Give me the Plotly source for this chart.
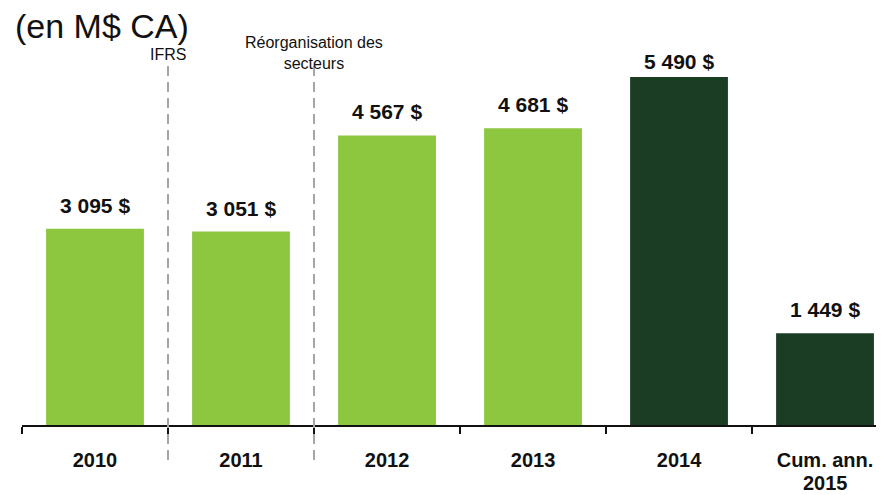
import plotly.graph_objects as go

categories = ["2010", "2011", "2012", "2013", "2014", "Cum. ann. 2015"]
tick_labels = ["2010", "2011", "2012", "2013", "2014", "Cum. ann."]
values = [3095, 3051, 4567, 4681, 5490, 1449]
light_green = "#8DC63F"
dark_green = "#1A3D24"
colors = [light_green, light_green, light_green, light_green, dark_green, dark_green]
divider_positions = [0.5, 1.5]
# extra vertical nudge (px) for labels squeezed near the top
label_nudge = {4: -8}

FONT = "Liberation Sans, Arial, sans-serif"

fig = go.Figure()
fig.add_trace(go.Bar(
    x=list(range(len(categories))), y=values, marker=dict(color=colors, line=dict(width=0)),
    hoverinfo="skip", showlegend=False,
))

annotations = []
for i, v in enumerate(values):
    annotations.append(dict(
        x=i, y=v, xref="x", yref="y", text="<b>" + f"{v:,}".replace(",", " ") + " $</b>",
        showarrow=False, yanchor="bottom", yshift=10 + label_nudge.get(i, 0),
        font=dict(family=FONT, size=21, color="#111111"),
    ))
annotations.append(dict(
    x=5, y=-0.158, xref="x", yref="paper", text="<b>2015</b>", borderpad=0,
    showarrow=False, yanchor="middle", font=dict(family=FONT, size=20, color="#111111"),
))
annotations.append(dict(
    x=-0.0093, y=1.092, xref="paper", yref="paper", text="(en M$ CA)", borderpad=0,
    showarrow=False, xanchor="left", yanchor="middle",
    font=dict(family=FONT, size=34, color="#111111"),
))
annotations.append(dict(
    x=divider_positions[0], y=1.016, xref="x", yref="paper", text="IFRS",
    showarrow=False, yanchor="middle", font=dict(family=FONT, size=16, color="#111111"),
))
annotations.append(dict(
    x=divider_positions[1], y=1.018, xref="x", yref="paper", text="Réorganisation des<br>secteurs",
    showarrow=False, yanchor="middle", font=dict(family=FONT, size=16, color="#111111"),
))

shapes = []
for d in divider_positions:
    shapes.append(dict(
        type="line", xref="x", yref="paper", x0=d, x1=d, y0=-0.096, y1=0.986,
        line=dict(color="#A6A6A6", width=2, dash="10px,6px"), layer="above",
    ))

fig.update_layout(
    width=876, height=487,
    margin=dict(l=14, r=0, t=52, b=70),
    paper_bgcolor="white", plot_bgcolor="white",
    bargap=0.33,
    annotations=annotations, shapes=shapes,
    xaxis=dict(
        type="category", range=[-0.5, 5.404],
        tickmode="array", tickvals=list(range(len(categories))),
        ticktext=["<b>" + t + "</b>" for t in tick_labels],
        tickson="boundaries", ticks="outside", ticklen=7, tickwidth=1.5, tickcolor="#111111",
        showline=True, linecolor="#111111", linewidth=1.5,
        showgrid=False, zeroline=False, ticklabelstandoff=16,
        tickfont=dict(family=FONT, size=20, color="#111111"),
    ),
    yaxis=dict(range=[0, 5757], visible=False, showgrid=False, zeroline=False),
)

fig.write_html("out.html")
